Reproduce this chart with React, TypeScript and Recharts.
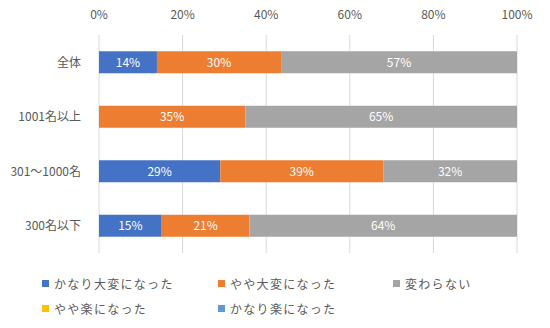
import React from 'react';
import { BarChart, Bar, XAxis, YAxis, CartesianGrid, LabelList } from 'recharts';

const categories = ['全体', '1001名以上', '301～1000名', '300名以下'];
const seriesNames = ['かなり大変になった', 'やや大変になった', '変わらない', 'やや楽になった', 'かなり楽になった'];
const seriesColors = ['#4472C4', '#ED7D31', '#A5A5A5', '#FFC000', '#5B9BD5'];
const veryHard = [14, 0, 29, 15];
const slightlyHard = [30, 35, 39, 21];
const unchanged = [57, 65, 32, 64];
const slightlyEasy = [0, 0, 0, 0];
const veryEasy = [0, 0, 0, 0];
const xTicks = [0, 0.2, 0.4, 0.6, 0.8, 1];

const seriesValues = [veryHard, slightlyHard, unchanged, slightlyEasy, veryEasy];
const keys = ['s0', 's1', 's2', 's3', 's4'];

const data = categories.map((name, i) => {
    const row: Record<string, string | number> = { name };
    keys.forEach((k, j) => { row[k] = seriesValues[j][i]; });
    return row;
});

const FONT = '"Noto Sans CJK JP", "Noto Sans", sans-serif';
const TEXT = '#595959';

export default function App() {
    return (
        <div style={{ position: 'absolute', left: 0, top: 0, width: 550, height: 328, background: '#fff', fontFamily: FONT }}>
            <BarChart
                width={550}
                height={260}
                data={data}
                layout="vertical"
                stackOffset="expand"
                barCategoryGap="30%"
                margin={{ top: 0, right: 33, bottom: 7, left: 0 }}
            >
                <CartesianGrid horizontal={false} stroke="#D9D9D9" />
                <XAxis
                    type="number"
                    orientation="top"
                    domain={[0, 1]}
                    ticks={xTicks}
                    height={35}
                    axisLine={false}
                    tickLine={false}
                    tickFormatter={(v: number) => `${Math.round(v * 100)}%`}
                    tick={{ fill: TEXT, fontSize: 12, fontFamily: FONT }}
                    tickMargin={10}
                />
                <YAxis
                    type="category"
                    dataKey="name"
                    width={99}
                    axisLine={false}
                    tickLine={false}
                    tick={{ fill: TEXT, fontSize: 12, fontFamily: FONT }}
                    tickMargin={12}
                />
                {keys.map((k, j) => (
                    <Bar key={k} dataKey={k} stackId="a" fill={seriesColors[j]} isAnimationActive={false}>
                        <LabelList
                            dataKey={k}
                            position="center"
                            fill="#fff"
                            fontSize={12}
                            fontFamily={FONT}
                            formatter={(v: any) => (v ? `${v}%` : '')}
                        />
                    </Bar>
                ))}
            </BarChart>
            <div style={{ position: 'absolute', left: 42, top: 274, display: 'grid', gridTemplateColumns: '176px 175px 140px', rowGap: 7, fontSize: 12, color: TEXT }}>
                {seriesNames.map((n, j) => (
                    <div key={n} style={{ display: 'flex', alignItems: 'center', height: 18, whiteSpace: 'nowrap' }}>
                        <span style={{ display: 'inline-block', width: 7, height: 7, background: seriesColors[j], marginRight: 5 }} />
                        <span style={{ letterSpacing: 1.3 }}>{n}</span>
                    </div>
                ))}
            </div>
        </div>
    );
}
